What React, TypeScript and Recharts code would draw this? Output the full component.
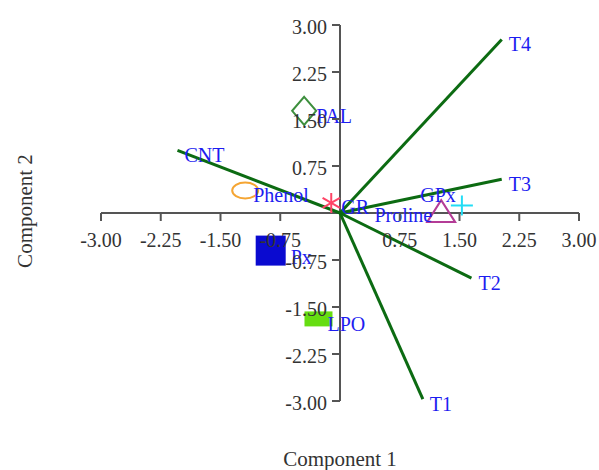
import React from 'react';
import { ScatterChart, Scatter, XAxis, YAxis, ReferenceLine } from 'recharts';

// Loading vectors (green lines from origin)
const vectorNames = ['T1', 'T2', 'T3', 'T4', 'CNT'];
const vectorX = [1.04, 1.65, 2.03, 2.03, -2.04];
const vectorY = [-2.97, -1.04, 0.54, 2.77, 1.0];

// Variable points (markers)
const varNames = ['PAL', 'Phenol', 'GR', 'Proline', 'GPx', 'Px', 'LPO'];
const varX = [-0.45, -1.19, -0.11, 1.27, 1.53, -0.87, -0.27];
const varY = [1.63, 0.36, 0.16, 0.03, 0.12, -0.6, -1.69];

// Axis ticks
const xTicks = [-3, -2.25, -1.5, -0.75, 0.75, 1.5, 2.25, 3];
const yTicks = [-3, -2.25, -1.5, -0.75, 0.75, 1.5, 2.25, 3];
const xTickLabels = ['-3.00', '-2.25', '-1.50', '-0.75', '0.75', '1.50', '2.25', '3.00'];
const yTickLabels = ['-3.00', '-2.25', '-1.50', '-0.75', '0.75', '1.50', '2.25', '3.00'];

const xTitle = 'Component 1';
const yTitle = 'Component 2';

const FONT = '"Liberation Serif", "Times New Roman", serif';
const LABEL_BLUE = '#1d1df0';
const TICK_COLOR = '#333333';
const AXIS_COLOR = '#555555';
const VECTOR_GREEN = '#0c6b12';

const vectorData = vectorNames.map((name, i) => ({ name, x: vectorX[i], y: vectorY[i] }));
const varData = varNames.map((name, i) => ({ name, x: varX[i], y: varY[i] }));
const xTickData = xTicks.map((v, i) => ({ x: v, y: 0, label: xTickLabels[i] }));
const yTickData = yTicks.map((v, i) => ({ x: 0, y: v, label: yTickLabels[i] }));

// label placement relative to marker (style, not data)
const labelStyle: Record<string, { dx: number; dy: number; anchor: 'start' | 'end' }> = {
  PAL: { dx: 12, dy: 5, anchor: 'start' },
  Phenol: { dx: 8, dy: 5, anchor: 'start' },
  GR: { dx: 10, dy: 4, anchor: 'start' },
  Proline: { dx: -9, dy: 4, anchor: 'end' },
  GPx: { dx: -6, dy: -10, anchor: 'end' },
  Px: { dx: 20, dy: 6, anchor: 'start' },
  LPO: { dx: 9, dy: 5, anchor: 'start' },
};

const renderMarker = (name: string, cx: number, cy: number) => {
  switch (name) {
    case 'PAL':
      return (
        <polygon
          points={`${cx},${cy - 14} ${cx + 12},${cy} ${cx},${cy + 14} ${cx - 12},${cy}`}
          fill="none"
          stroke="#3d8f3d"
          strokeWidth={2}
        />
      );
    case 'Phenol':
      return <ellipse cx={cx} cy={cy} rx={13} ry={8} fill="none" stroke="#f5a533" strokeWidth={2} />;
    case 'GR': {
      const r = 10;
      const angles = [90, 30, 150];
      return (
        <g stroke="#ff4466" strokeWidth={2}>
          {angles.map((a) => {
            const rad = (a * Math.PI) / 180;
            const dx = r * Math.cos(rad);
            const dy = r * Math.sin(rad);
            return <line key={a} x1={cx - dx} y1={cy - dy} x2={cx + dx} y2={cy + dy} />;
          })}
        </g>
      );
    }
    case 'Proline':
      return (
        <polygon
          points={`${cx},${cy - 11} ${cx + 14},${cy + 11} ${cx - 14},${cy + 11}`}
          fill="none"
          stroke="#b43c96"
          strokeWidth={2}
        />
      );
    case 'GPx':
      return (
        <g stroke="#22ddf5" strokeWidth={2}>
          <line x1={cx - 11} y1={cy} x2={cx + 11} y2={cy} />
          <line x1={cx} y1={cy - 10} x2={cx} y2={cy + 10} />
        </g>
      );
    case 'Px':
      return <rect x={cx - 15} y={cy - 15} width={30} height={30} fill="#0a0ad0" />;
    case 'LPO':
      return <rect x={cx - 14} y={cy - 7.5} width={28} height={15} fill="#66dd11" />;
    default:
      return null;
  }
};

const VarShape = (props: any) => {
  const { cx, cy, payload } = props;
  if (cx == null || cy == null) return null;
  const name = payload.name as string;
  const ls = labelStyle[name] || { dx: 8, dy: 5, anchor: 'start' };
  return (
    <g>
      {renderMarker(name, cx, cy)}
      <text
        x={cx + ls.dx}
        y={cy + ls.dy}
        textAnchor={ls.anchor}
        dominantBaseline="central"
        fontFamily={FONT}
        fontSize={20}
        fill={LABEL_BLUE}
      >
        {name}
      </text>
    </g>
  );
};

const VectorLabel = (props: any) => {
  const { cx, cy, payload } = props;
  if (cx == null || cy == null) return null;
  return (
    <text
      x={cx + 7}
      y={cy + 5}
      textAnchor="start"
      dominantBaseline="central"
      fontFamily={FONT}
      fontSize={20}
      fill={LABEL_BLUE}
    >
      {payload.name}
    </text>
  );
};

const XTick = (props: any) => {
  const { cx, cy, payload } = props;
  if (cx == null || cy == null) return null;
  return (
    <g>
      <line x1={cx} y1={cy} x2={cx} y2={cy + 8} stroke={AXIS_COLOR} strokeWidth={2} />
      <text
        x={cx}
        y={cy + 27}
        textAnchor="middle"
        dominantBaseline="central"
        fontFamily={FONT}
        fontSize={20}
        fill={TICK_COLOR}
      >
        {payload.label}
      </text>
    </g>
  );
};

const YTick = (props: any) => {
  const { cx, cy, payload } = props;
  if (cx == null || cy == null) return null;
  return (
    <g>
      <line x1={cx - 8} y1={cy} x2={cx} y2={cy} stroke={AXIS_COLOR} strokeWidth={2} />
      <text
        x={cx - 13}
        y={cy + 2}
        textAnchor="end"
        dominantBaseline="central"
        fontFamily={FONT}
        fontSize={20}
        fill={TICK_COLOR}
      >
        {payload.label}
      </text>
    </g>
  );
};

export default function App() {
  return (
    <div
      style={{
        position: 'absolute',
        left: 0,
        top: 0,
        width: 599,
        height: 470,
        background: '#ffffff',
        overflow: 'hidden',
      }}
    >
      <ScatterChart width={599} height={470} margin={{ top: 25, right: 20, bottom: 69, left: 101 }}>
        <XAxis type="number" dataKey="x" domain={[-3, 3]} hide />
        <YAxis type="number" dataKey="y" domain={[-3, 3]} hide />
        <ReferenceLine y={0} stroke={AXIS_COLOR} strokeWidth={2} ifOverflow="visible" />
        <ReferenceLine x={0} stroke={AXIS_COLOR} strokeWidth={2} ifOverflow="visible" />
        <Scatter data={varData} shape={VarShape} isAnimationActive={false} />
        {vectorData.map((v) => (
          <ReferenceLine
            key={v.name}
            segment={[
              { x: 0, y: 0 },
              { x: v.x, y: v.y },
            ]}
            stroke={VECTOR_GREEN}
            strokeWidth={3}
            ifOverflow="visible"
          />
        ))}
        <Scatter data={vectorData} shape={VectorLabel} isAnimationActive={false} />
        <Scatter data={xTickData} shape={XTick} isAnimationActive={false} />
        <Scatter data={yTickData} shape={YTick} isAnimationActive={false} />
      </ScatterChart>
      <div
        style={{
          position: 'absolute',
          left: 340,
          top: 459,
          transform: 'translate(-50%, -50%)',
          fontFamily: FONT,
          fontSize: 21,
          color: TICK_COLOR,
          whiteSpace: 'nowrap',
        }}
      >
        {xTitle}
      </div>
      <div
        style={{
          position: 'absolute',
          left: 25,
          top: 211,
          transform: 'translate(-50%, -50%) rotate(-90deg)',
          fontFamily: FONT,
          fontSize: 21,
          color: TICK_COLOR,
          whiteSpace: 'nowrap',
        }}
      >
        {yTitle}
      </div>
    </div>
  );
}
